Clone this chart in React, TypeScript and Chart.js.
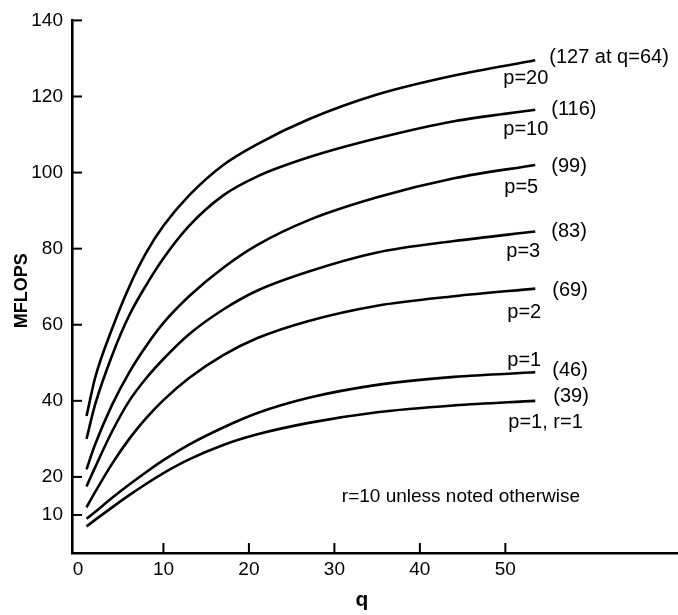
import React, { useEffect, useRef } from "react";
import { Chart, registerables } from "chart.js";

Chart.register(...registerables);

// q values (x) shared by all curves
const qValues = [1, 2, 4, 6, 8, 10, 13, 17, 21, 27, 35, 44, 53.5];
// MFLOPS for each curve
const p20 = [36, 46, 59, 70, 79, 86, 94, 102, 107.5, 114, 120.5, 125.5, 129.5];
const p10 = [30, 39, 52, 62.5, 70.5, 77.5, 86, 94, 99, 104, 109, 113.5, 116.5];
const p5 = [22, 28.5, 39, 47.5, 54.5, 60.5, 67.5, 75, 81, 87.5, 93.5, 98.5, 102];
const p3 = [17.5, 22.5, 32, 40, 46, 51, 57.5, 64, 69, 74, 79, 82, 84.5];
const p2 = [12, 16, 23.5, 30, 35.5, 40.2, 46, 52, 56.5, 61, 65, 67.5, 69.5];
const p1 = [9, 10.8, 14.5, 18, 21.3, 24.4, 28.5, 33, 36.8, 40.8, 44.2, 46.3, 47.5];
const p1r1 = [7, 8.7, 12, 15.2, 18.2, 21, 24.6, 28.4, 31.2, 34.2, 37, 38.8, 40];

const seriesNames = ["p=20", "p=10", "p=5", "p=3", "p=2", "p=1", "p=1, r=1"];
const seriesValues = [p20, p10, p5, p3, p2, p1, p1r1];
const endLabels = ["(127 at q=64)", "(116)", "(99)", "(83)", "(69)", "(46)", "(39)"];

const xTicks = [0, 10, 20, 30, 40, 50];
const yTicks = [10, 20, 40, 60, 80, 100, 120, 140];

const noteText = "r=10 unless noted otherwise";

// label placement offsets (pixels) relative to each curve's last point
const endLabelOffsets = [
  [14, -3], [16, 0], [16, 2], [16, 0], [17, 2], [17, -2], [18, -4],
];
const nameOffsets = [
  [-32, 18], [-32, 20], [-31, 23], [-29, 20], [-28, 24], [-28, -12], [-27, 22],
];

const FONT = '"Liberation Sans", Arial, sans-serif';

const annotate = {
  id: "annotate",
  afterDraw(chart: any) {
    const { ctx, chartArea, scales } = chart;
    const x = scales.x;
    const y = scales.y;
    ctx.save();
    ctx.strokeStyle = "#000";
    ctx.fillStyle = "#000";
    ctx.lineWidth = 2;
    ctx.lineCap = "butt";
    // inside tick marks
    yTicks.forEach((v) => {
      const py = y.getPixelForValue(v);
      ctx.beginPath();
      ctx.moveTo(chartArea.left, py);
      ctx.lineTo(chartArea.left + 10, py);
      ctx.stroke();
    });
    xTicks
      .filter((v) => v > 0)
      .forEach((v) => {
        const px = x.getPixelForValue(v);
        ctx.beginPath();
        ctx.moveTo(px, chartArea.bottom);
        ctx.lineTo(px, chartArea.bottom - 10);
        ctx.stroke();
      });
    // curve labels
    ctx.font = `20px ${FONT}`;
    ctx.textAlign = "left";
    ctx.textBaseline = "middle";
    const last = qValues.length - 1;
    seriesValues.forEach((vals, i) => {
      const ex = x.getPixelForValue(qValues[last]);
      const ey = y.getPixelForValue(vals[last]);
      ctx.fillText(endLabels[i], ex + endLabelOffsets[i][0], ey + endLabelOffsets[i][1]);
      ctx.fillText(seriesNames[i], ex + nameOffsets[i][0], ey + nameOffsets[i][1]);
    });
    // note
    ctx.font = `19px ${FONT}`;
    ctx.textAlign = "right";
    ctx.fillText(noteText, 580, 497);
    // axis titles
    ctx.font = `bold 18px ${FONT}`;
    ctx.textAlign = "center";
    ctx.save();
    ctx.translate(22, (chartArea.top + chartArea.bottom) / 2 + 4);
    ctx.rotate(-Math.PI / 2);
    ctx.fillText("MFLOPS", 0, 0);
    ctx.restore();
    ctx.font = `bold 21px ${FONT}`;
    ctx.fillText("q", 362, 600);
    ctx.restore();
  },
};

export default function App() {
  const ref = useRef<HTMLCanvasElement | null>(null);
  useEffect(() => {
    document.body.style.margin = "0";
    if (!ref.current) return;
    const chart = new Chart(ref.current, {
      type: "line",
      data: {
        datasets: seriesValues.map((vals, i) => ({
          label: seriesNames[i],
          data: qValues.map((q, j) => ({ x: q, y: vals[j] })),
          borderColor: "#000",
          borderWidth: 2.6,
          pointRadius: 0,
          fill: false,
          cubicInterpolationMode: "monotone" as const,
        })),
      },
      options: {
        animation: false,
        responsive: true,
        maintainAspectRatio: false,
        layout: { padding: { top: 20, right: 0, left: 0, bottom: 0 } },
        plugins: {
          legend: { display: false },
          tooltip: { enabled: false },
          title: { display: false },
        },
        scales: {
          x: {
            type: "linear",
            min: -0.7,
            max: 70.2,
            afterBuildTicks: (s: any) => {
              s.ticks = xTicks.map((v) => ({ value: v }));
            },
            afterFit: (s: any) => {
              s.height = 62;
            },
            grid: { display: false, drawTicks: false },
            border: { display: true, color: "#000", width: 2.6 },
            ticks: {
              color: "#000",
              font: { family: FONT, size: 19 },
              padding: 5,
              maxRotation: 0,
              callback: (v: any) => String(v),
            },
          },
          y: {
            type: "linear",
            min: 0,
            max: 140,
            afterBuildTicks: (s: any) => {
              s.ticks = yTicks.map((v) => ({ value: v }));
            },
            afterFit: (s: any) => {
              s.width = 72;
            },
            grid: { display: false, drawTicks: false },
            border: { display: true, color: "#000", width: 2.6 },
            ticks: {
              color: "#000",
              font: { family: FONT, size: 19 },
              padding: 9,
              callback: (v: any) => String(v),
            },
          },
        },
      },
      plugins: [annotate],
    });
    return () => chart.destroy();
  }, []);
  return (
    <div style={{ position: "fixed", left: 0, top: 0, width: 678, height: 615, background: "#fff" }}>
      <canvas ref={ref} />
    </div>
  );
}
